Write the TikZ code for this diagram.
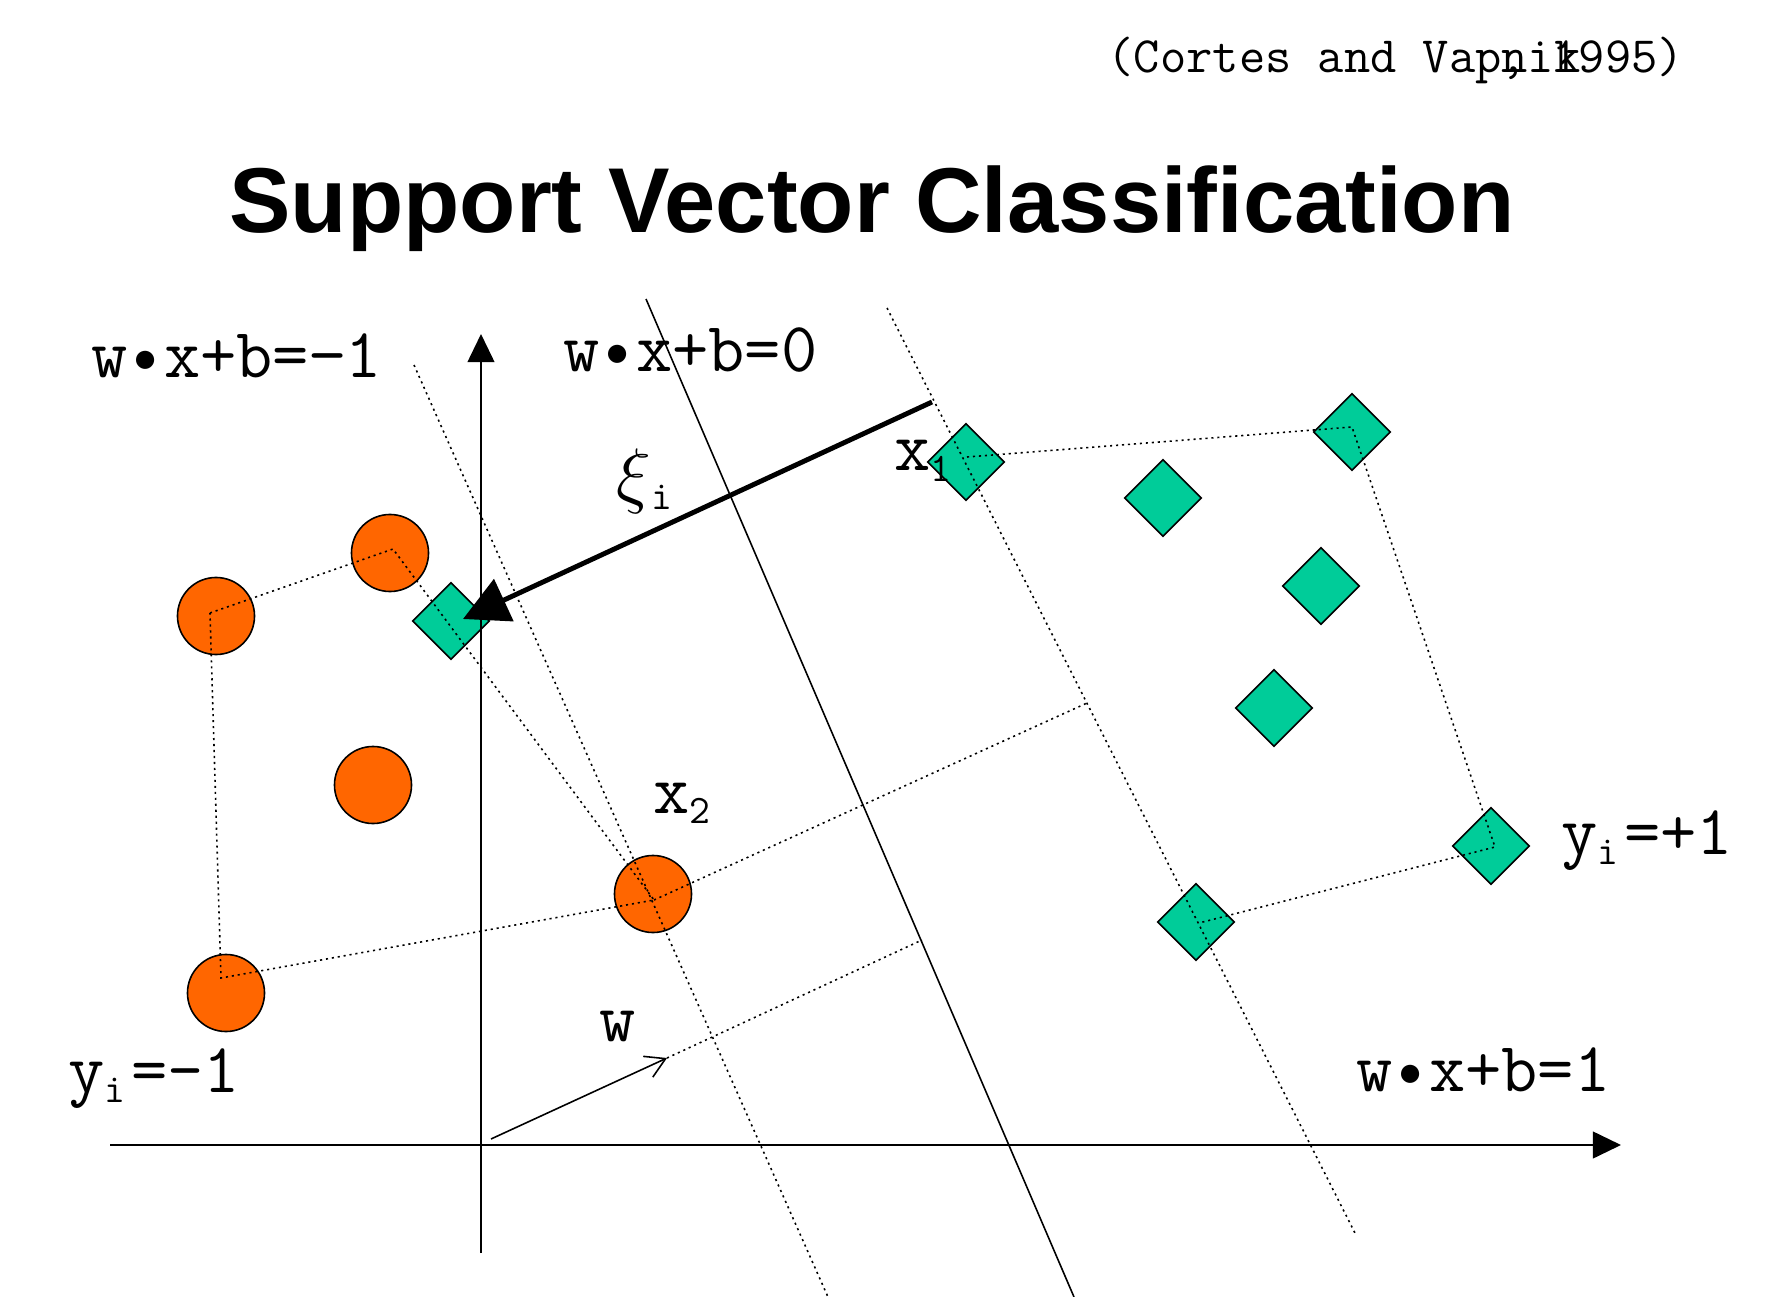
\documentclass[tikz,border=0pt]{standalone}
\usepackage{fontspec}
\usetikzlibrary{arrows.meta,shapes.geometric}
\newfontfamily\titlefont{Liberation Sans}
\newcommand{\eqfont}{\fontsize{20}{24}\selectfont\ttfamily}
\newcommand{\citefont}{\fontsize{14.5}{18}\selectfont\ttfamily}
\newcommand{\lowsub}[1]{\textsubscript{\fontsize{11.5}{12}\selectfont #1}}
\definecolor{negorange}{RGB}{255,102,0}
\definecolor{posgreen}{RGB}{0,204,153}

\begin{document}
\begin{tikzpicture}[x=0.01cm,y=-0.01cm,
	negpt/.style={circle,draw,fill=negorange,line width=0.45pt,minimum size=0.77cm,inner sep=0pt},
	pospt/.style={diamond,draw,fill=posgreen,line width=0.45pt,minimum size=0.77cm,inner sep=0pt},
	hull/.style={line width=0.45pt,dash pattern=on 0.6pt off 1.1pt},
	axis/.style={line width=0.6pt,-{Triangle[length=8pt,width=7.6pt]}},
	lbl/.style={anchor=base west,inner sep=0pt,font=\eqfont}]
			\useasboundingbox (0,0) rectangle (1790,1297);
			% Support Vector Classification
			\node[font={\titlefont\bfseries\fontsize{26.2}{30}\selectfont},anchor=base] (Title) at (872,232) {Support Vector Classification};
			\node[font=\citefont,anchor=base west,inner sep=0pt] (Cite) at (1107,73) {(Cortes and Vapnik\kern-1.575em, 1995)};
			
			% class -1
			\node[negpt] (NegA) at (216,616) {};
			\node[negpt] (NegB) at (390,553) {};
			\node[negpt] (NegC) at (373,785) {};
			\node[negpt] (NegD) at (653,894) {};
			\node[negpt] (NegE) at (226,993) {};
			% class +1
			\node[pospt] (PosBad) at (451,621) {};
			\node[pospt] (PosA) at (966,462) {};
			\node[pospt] (PosB) at (1352,432) {};
			\node[pospt] (PosC) at (1163,498) {};
			\node[pospt] (PosD) at (1321,586) {};
			\node[pospt] (PosE) at (1274,708) {};
			\node[pospt] (PosF) at (1491,846) {};
			\node[pospt] (PosG) at (1196,922) {};
			
			\coordinate (HullNegA) at (210,613);
			\coordinate (HullNegB) at (393,549);
			\coordinate (HullNegD) at (654,900);
			\coordinate (HullNegE) at (221,978);
			\coordinate (HullPosA) at (967,457);
			\coordinate (HullPosB) at (1352,427);
			\coordinate (HullPosF) at (1495,847);
			\coordinate (HullPosG) at (1199,923);
			\coordinate (MinusTop) at (414,365);
			\coordinate (MinusBot) at (828,1297);
			\coordinate (ZeroTop) at (646,299);
			\coordinate (ZeroBot) at (1074,1297);
			\coordinate (PlusTop) at (887,308);
			\coordinate (PlusBot) at (1356,1235);
			\coordinate (PerpEnd) at (1087,703);
			\coordinate (WBase) at (491,1139);
			\coordinate (WTip) at (667,1058);
			\coordinate (WEnd) at (922,940);
			\coordinate (XiStart) at (932,402);
			\coordinate (XiTip) at (463,619);
			\coordinate (YBot) at (481,1253);
			\coordinate (YTop) at (481,334);
			\coordinate (XLeft) at (110,1145);
			\coordinate (XRight) at (1621,1145);
			
			% margins and separating line
			\draw[hull] (MinusTop) -- (MinusBot);
			\draw[line width=0.45pt] (ZeroTop) -- (ZeroBot);
			\draw[hull] (PlusTop) -- (PlusBot);
			% hulls
			\draw[hull] (HullNegA) -- (HullNegB) -- (HullNegD) -- (HullNegE) -- cycle;
			\draw[hull] (HullPosA) -- (HullPosB) -- (HullPosF) -- (HullPosG);
			\draw[hull] (HullNegD) -- (PerpEnd);
			\draw[hull] (WTip) -- (WEnd);
			% axes
			\draw[axis] (YBot) -- (YTop);
			\draw[axis] (XLeft) -- (XRight);
			\draw[line width=0.45pt,-{Straight Barb[length=5.5pt,width=6.5pt]}] (WBase) -- (WTip);
			\draw[line width=1.4pt,-{Triangle[length=12.8pt,width=13pt]}] (XiStart) -- (XiTip);
			
			% labels
			\node[lbl] (EqMinus) at (91,378) {w\textbullet x+b=\textminus 1};
			\node[lbl] (EqZero) at (563,371) {w\textbullet x+b=0};
			\node[lbl] (EqPlus) at (1356,1091) {w\textbullet x+b=1};
			\node[lbl] (LabPos) at (1561,854) {y\lowsub{i}\kern0.05em=+1};
			\node[lbl] (LabNeg) at (68,1092) {y\lowsub{i}\kern0.05em=-1};
			\node[lbl] (LabW) at (599,1041) {w};
			\node[lbl] (LabXi) at (616,499) {$\xi$\lowsub{i}};
			\node[lbl] (LabXOne) at (894,471) {x\lowsub{1}};
			\node[lbl] (LabXTwo) at (653,813) {x\lowsub{2}};
\end{tikzpicture}
\end{document}
